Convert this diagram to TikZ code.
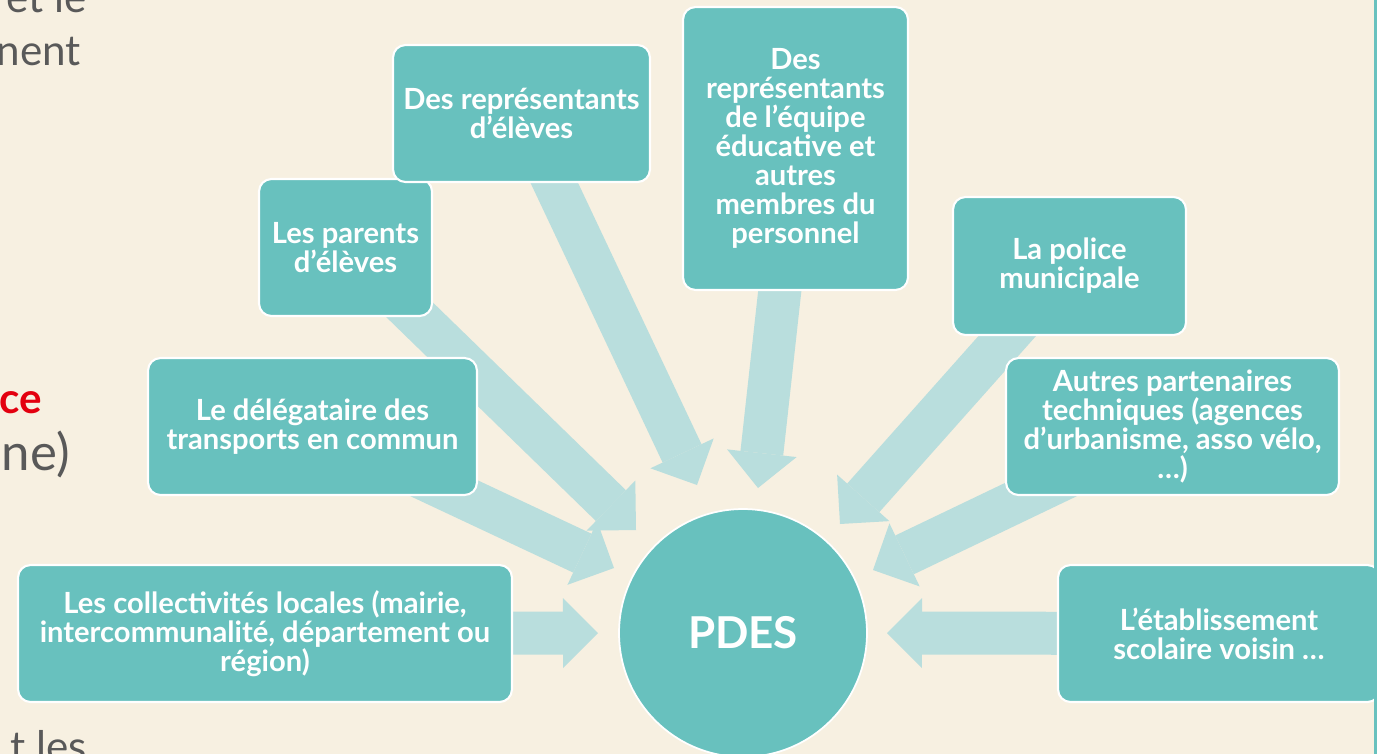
\documentclass[tikz,border=0pt]{standalone}
\usepackage{fontspec}
\setmainfont{Lato}
\usepackage{tikz}
\usetikzlibrary{arrows.meta}
\definecolor{slidebg}{HTML}{F7F0E1}
\definecolor{boxteal}{HTML}{68C1BE}
\definecolor{arrowteal}{HTML}{B9DEDD}
\definecolor{textgray}{HTML}{595959}
\definecolor{alertred}{HTML}{E3000F}
\pgfdeclarelayer{back}
\pgfsetlayers{back,main}
\tikzset{
  actor/.style={draw=white, line width=1.2pt, fill=boxteal, rounded corners=0.25cm, text=white,
    font=\fontsize{16.6}{16.5}\selectfont\bfseries, align=center, inner sep=0pt, minimum height=2.74cm},
  flow/.style={draw=arrowteal, line width=0.86cm, -{Triangle[length=0.7cm,width=1.4cm,line width=0pt]}},
  bgtext/.style={text=textgray, font=\fontsize{24}{28}\selectfont, anchor=base east, inner sep=0pt}
}

\begin{document}
\begin{tikzpicture}[x=0.02cm,y=-0.02cm]
\useasboundingbox (0,0) rectangle (1377,754);
\clip (0,0) rectangle (1377,754);
\node[bgtext] (l1) at (87,12) {et le};
\node[bgtext] (l2) at (81,65) {nent};
\node[bgtext, text=alertred, font=\fontsize{24}{28}\selectfont\bfseries] (l3) at (42,413) {ce};
\node[bgtext, font=\fontsize{29}{32}\selectfont] (l4) at (70,470) {ne)};
\node[bgtext] (l5) at (87,761) {t les};
\node[actor, minimum width=9.88cm] (coll) at (265,633.5) {Les collectivités locales (mairie,\\intercommunalité, département ou\\région)};
\node[actor, minimum width=6.58cm] (deleg) at (312.5,426.5) {Le délégataire des\\transports en commun};
\node[actor, minimum width=3.46cm] (parents) at (345.5,247.5) {Les parents\\d’élèves};
\node[actor, minimum width=5.14cm] (eleves) at (521.5,113.5) {Des représentants\\d’élèves};
\node[actor, minimum width=4.5cm, minimum height=5.66cm] (equipe) at (795.5,148.5) {Des\\représentants\\de l’équipe\\éducative et\\autres\\membres du\\personnel};
\node[actor, minimum width=4.66cm, minimum height=2.76cm] (police) at (1069.5,266) {La police\\municipale};
\node[actor, minimum width=6.66cm] (autres) at (1172.5,426.5) {Autres partenaires\\techniques (agences\\d’urbanisme, asso vélo,\\…)};
\node[actor, minimum width=6.44cm] (etab) at (1219,633.5) {L’établissement\\scolaire voisin …};
\node[circle, fill=boxteal, draw=white, line width=1pt, minimum size=4.96cm, text=white,
  font=\fontsize{25}{30}\selectfont\bfseries] (pdes) at (743,633) {PDES};
\draw[boxteal, line width=0.06cm] (1375,0) -- (1375,754);
% arrow tips near the circle
\coordinate (t1) at (598,633);
\coordinate (t2) at (614,568);
\coordinate (t3) at (636,530);
\coordinate (t4) at (697,485);
\coordinate (t5) at (758,488);
\coordinate (t6) at (840,524);
\coordinate (t7) at (873,570);
\coordinate (t8) at (887,633);
\begin{pgfonlayer}{back}
\fill[slidebg] (0,0) rectangle (1377,754);
\draw[flow] (coll.center) -- (t1);
\draw[flow] (deleg.center) -- (t2);
\draw[flow] (parents.center) -- (t3);
\draw[flow] (eleves.center) -- (t4);
\draw[flow] (equipe.center) -- (t5);
\draw[flow] (police.center) -- (t6);
\draw[flow] (autres.center) -- (t7);
\draw[flow] (etab.center) -- (t8);
\end{pgfonlayer}
\end{tikzpicture}
\end{document}
